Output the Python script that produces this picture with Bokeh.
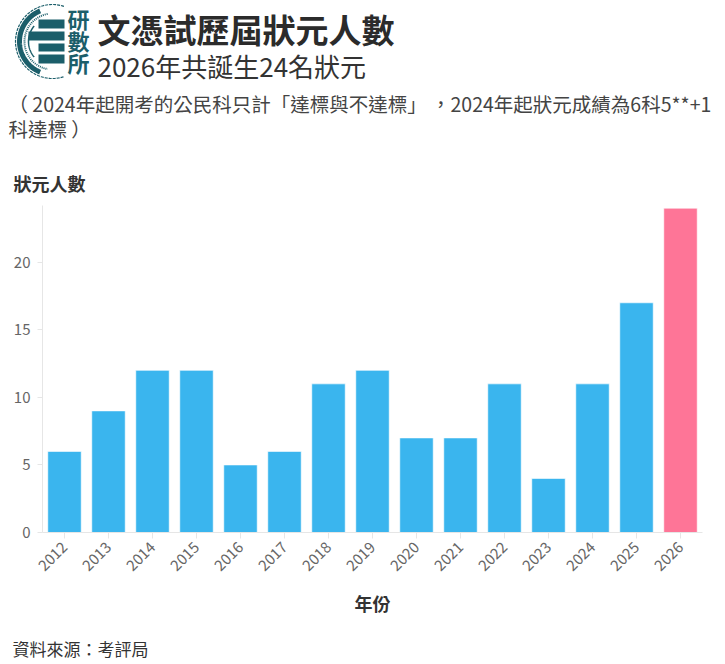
import math
import numpy as np
from bokeh.plotting import figure
from bokeh.layouts import column
from bokeh.models import FactorRange, Range1d, FixedTicker, ColumnDataSource
from bokeh.core.properties import value
from bokeh.embed import file_html
from bokeh.resources import INLINE

# ---- data ----
years = ["2012", "2013", "2014", "2015", "2016", "2017", "2018", "2019",
         "2020", "2021", "2022", "2023", "2024", "2025", "2026"]
counts = [6, 9, 12, 12, 5, 6, 11, 12, 7, 7, 11, 4, 11, 17, 24]
highlight_year = "2026"
y_ticks = [0, 5, 10, 15, 20]

title_text = "文憑試歷屆狀元人數"
subtitle_text = "2026年共誕生24名狀元"
note_lines = ["（ 2024年起開考的公民科只計「達標與不達標」 ，2024年起狀元成績為6科5**+1",
              "科達標 ）"]
y_label = "狀元人數"
x_label = "年份"
source_text = "資料來源：考評局"
logo_chars = ["研", "數", "所"]

FONT = "Noto Sans CJK TC"
BLUE = "#3ab5ee"
PINK = "#fe7597"
TEAL = "#1b5e6a"
W = 725
HDR_BOT = 198          # header: page y 0..198
CH_BOT = 628           # chart: page y 198..628
FT_BOT = 664           # footer: page y 628..664
FL, FR, FT, FB = 42, 702, 205, 532   # chart frame edges (page px)


def deco_fig(top, bot):
    f = figure(width=W, height=bot - top, x_range=Range1d(0, W),
               y_range=Range1d(bot, top), output_backend="svg",
               toolbar_location=None, x_axis_type=None, y_axis_type=None,
               min_border=0, outline_line_color=None, frame_align=False)
    f.grid.visible = False
    return f


def txt(f, x, y, text, size, color="#333333", bold=False, align="left"):
    f.text(x=[x], y=[y], text=[text], text_font=value(FONT),
           text_font_size=value(size), text_font_style="bold" if bold else "normal",
           text_color=color, text_align=align, text_baseline="middle")


# ---- header ----
h = deco_fig(0, HDR_BOT)

cx, cy = 52, 41
def arc(r, a0, a1, n=80):
    t = np.radians(np.linspace(a0, a1, n))
    return cx + r * np.cos(t), cy - r * np.sin(t)

for r, a0, a1, lw, dash in [(33, 112, 248, 5, "solid"), (37, 72, 288, 1.2, "3 1"),
                            (28, 100, 260, 2, "1 1"), (24, 140, 220, 1.5, "solid")]:
    ax_, ay_ = arc(r, a0, a1)
    h.line(ax_, ay_, line_width=lw, line_color=TEAL, line_dash=dash)
h.quad(left=[38, 28, 38, 38], right=[64, 64, 64, 64],
       top=[19, 31, 43, 54], bottom=[28, 40, 51, 63],
       fill_color=TEAL, line_color=None)
h.text(x=[78] * 3, y=[17, 39, 61], text=logo_chars, text_font=value(FONT),
       text_font_size=value("22px"), text_font_style="bold", text_color=TEAL,
       text_align="center", text_baseline="middle")

txt(h, 97, 28, title_text, "33px", color="#2b2b2b", bold=True)
txt(h, 97, 65, subtitle_text, "26px")
txt(h, 8, 103, note_lines[0], "19.5px", color="#444444")
txt(h, 8, 128, note_lines[1], "19.5px", color="#444444")
txt(h, 13, 182, y_label, "18px", bold=True)

# ---- chart ----
colors = [PINK if yv == highlight_year else BLUE for yv in years]
src = ColumnDataSource(dict(year=years, count=counts, color=colors))

p = figure(width=W, height=CH_BOT - HDR_BOT, x_range=FactorRange(*years),
           y_range=Range1d(0, 24.2), output_backend="svg", toolbar_location=None,
           min_border_left=FL, min_border_right=W - FR, min_border_top=FT - HDR_BOT,
           min_border_bottom=CH_BOT - FB, outline_line_color=None, frame_align=False)
p.vbar(x="year", top="count", width=0.76, fill_color="color",
       line_color="white", line_alpha=0.6, line_width=1, source=src)
p.grid.visible = False

p.yaxis.ticker = FixedTicker(ticks=y_ticks)
p.yaxis.minor_tick_line_color = None
p.axis.axis_line_color = "#e6e6e6"
p.axis.major_tick_line_color = "#e6e6e6"
p.axis.major_tick_in = 0
p.yaxis.major_tick_out = 5
p.xaxis.major_tick_out = 6
p.axis.major_label_text_font = FONT
p.axis.major_label_text_font_size = "15px"
p.axis.major_label_text_color = "#666666"
p.yaxis.major_label_standoff = 7
p.xaxis.major_label_orientation = math.pi / 4
p.xaxis.major_label_standoff = 6
p.xaxis.axis_label = x_label
p.xaxis.axis_label_text_font = FONT
p.xaxis.axis_label_text_font_size = "18px"
p.xaxis.axis_label_text_font_style = "bold"
p.xaxis.axis_label_text_color = "#333333"
p.xaxis.axis_label_standoff = 11

# ---- footer ----
f = deco_fig(CH_BOT, FT_BOT)
txt(f, 12, 648, source_text, "17px")

layout = column(h, p, f, spacing=0)
open("out.html", "w").write(file_html(layout, INLINE))
